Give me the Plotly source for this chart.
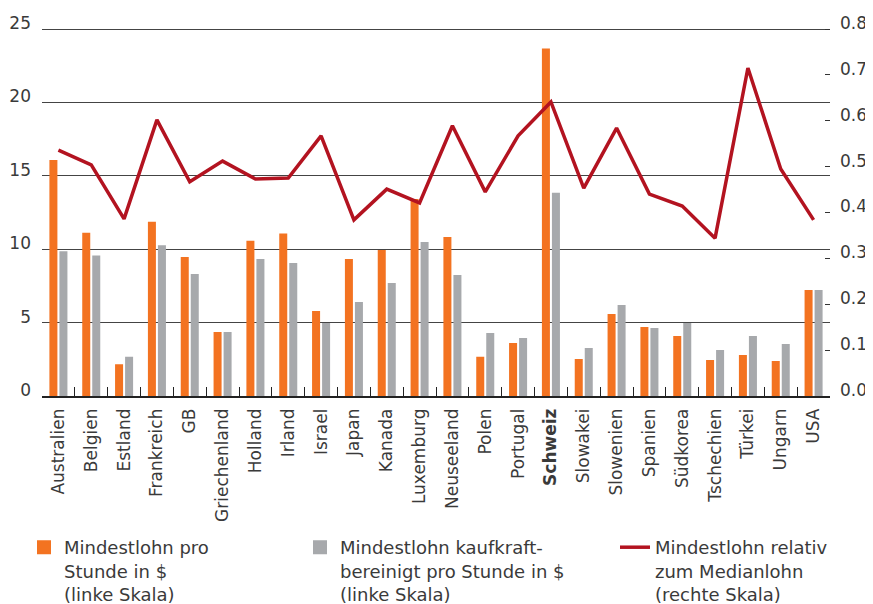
import plotly.graph_objects as go

countries = ["Australien", "Belgien", "Estland", "Frankreich", "GB", "Griechenland",
             "Holland", "Irland", "Israel", "Japan", "Kanada", "Luxemburg",
             "Neuseeland", "Polen", "Portugal", "Schweiz", "Slowakei", "Slowenien",
             "Spanien", "Südkorea", "Tschechien", "Türkei", "Ungarn", "USA"]
tick_labels = [("<b>%s</b>" % c if c == "Schweiz" else c) for c in countries]

mindestlohn = [16.0, 11.05, 2.1, 11.8, 9.4, 4.3, 10.5, 11.0, 5.73, 9.27, 9.88, 13.36,
               10.77, 2.6, 3.54, 23.6, 2.45, 5.52, 4.64, 4.02, 2.39, 2.73, 2.32, 7.16]
kaufkraft = [9.8, 9.5, 2.6, 10.2, 8.25, 4.3, 9.27, 9.0, 4.9, 6.34, 7.63, 10.43,
             8.18, 4.23, 3.89, 13.77, 3.2, 6.13, 4.57, 4.9, 3.07, 4.02, 3.48, 7.16]
relativ = [0.536, 0.504, 0.386, 0.602, 0.467, 0.512, 0.473, 0.475, 0.567, 0.384, 0.451, 0.421,
           0.589, 0.445, 0.567, 0.641, 0.453, 0.584, 0.440, 0.414, 0.344, 0.715, 0.495, 0.384]

left_ticks = [0, 5, 10, 15, 20, 25]
right_ticks = [0.0, 0.1, 0.2, 0.3, 0.4, 0.5, 0.6, 0.7, 0.8]

FONT = "DejaVu Sans"
TXT = "#3a3a3a"
ORANGE = "#F37321"
GREY = "#A7A9AC"
RED = "#B31320"

# the page body has an 8px margin; plot-area positions below are compensated for it
OFF = 8
W, H = 873, 604
PLOT_TOP, PLOT_BOTTOM = 29, 396       # where 25 / 0.8 and 0 sit on the page
HEAD = 3                               # headroom px so the top grid line is drawn
TOP_EXT = (PLOT_BOTTOM - PLOT_TOP + HEAD) / (PLOT_BOTTOM - PLOT_TOP)

fig = go.Figure()
fig.add_trace(go.Bar(x=countries, y=mindestlohn,
                     marker=dict(color=ORANGE, line=dict(color=ORANGE, width=2)),
                     name="Mindestlohn pro<br>Stunde in $<br>(linke Skala)",
                     legend="legend"))
fig.add_trace(go.Bar(x=countries, y=kaufkraft,
                     marker=dict(color=GREY, line=dict(color=GREY, width=2)),
                     name="Mindestlohn kaufkraft-<br>bereinigt pro Stunde in $<br>(linke Skala)",
                     legend="legend2"))
fig.add_trace(go.Scatter(x=countries, y=relativ, yaxis="y2", mode="lines",
                         line=dict(color=RED, width=3.5),
                         name="Mindestlohn relativ<br>zum Medianlohn<br>(rechte Skala)",
                         legend="legend3"))

legend_common = dict(orientation="v", xref="container", yref="container",
                     xanchor="left", yanchor="top", valign="top",
                     font=dict(family=FONT, size=18, color=TXT),
                     bgcolor="rgba(0,0,0,0)", borderwidth=0)

LEG_TOP = 1 - 521 / H

fig.update_layout(
    width=W, height=H,
    margin=dict(l=42 - OFF, r=W - (830 - OFF), t=PLOT_TOP - HEAD - OFF,
                b=H - (PLOT_BOTTOM - OFF), autoexpand=False),
    paper_bgcolor="white", plot_bgcolor="white",
    barmode="group", bargap=0.39, bargroupgap=0.4,
    font=dict(family=FONT, size=18, color=TXT),
    showlegend=True,
    legend=dict(x=16 / W, y=LEG_TOP, **legend_common),
    legend2=dict(x=292 / W, y=LEG_TOP, **legend_common),
    legend3=dict(x=607 / W, y=LEG_TOP, **legend_common),
    xaxis=dict(type="category", tickmode="array", tickvals=countries, ticktext=tick_labels,
               tickangle=-90, showline=True, linecolor="#222", linewidth=1.5,
               ticks="inside", tickson="boundaries", ticklen=9, tickcolor="#222",
               tickwidth=1.2, showgrid=False, automargin=False, ticklabelstandoff=4,
               tickfont=dict(family=FONT, size=17, color=TXT)),
    yaxis=dict(range=[0, 25 * TOP_EXT], tickmode="array", tickvals=left_ticks,
               showgrid=True, gridcolor="#444", gridwidth=1.1, zeroline=False,
               showline=False, ticks="", ticklabelshift=-6, ticklabelstandoff=10,
               automargin=False,
               tickfont=dict(family=FONT, size=17, color=TXT)),
    yaxis2=dict(range=[0, 0.8 * TOP_EXT], overlaying="y", side="right", tickmode="array",
                tickvals=right_ticks, tickformat=".1f", showgrid=False, zeroline=False,
                showline=False, ticks="inside", ticklen=5, tickcolor="#333",
                ticklabelshift=-6, ticklabelstandoff=9, automargin=False,
                tickfont=dict(family=FONT, size=17, color=TXT)),
)

fig.write_html("out.html")
